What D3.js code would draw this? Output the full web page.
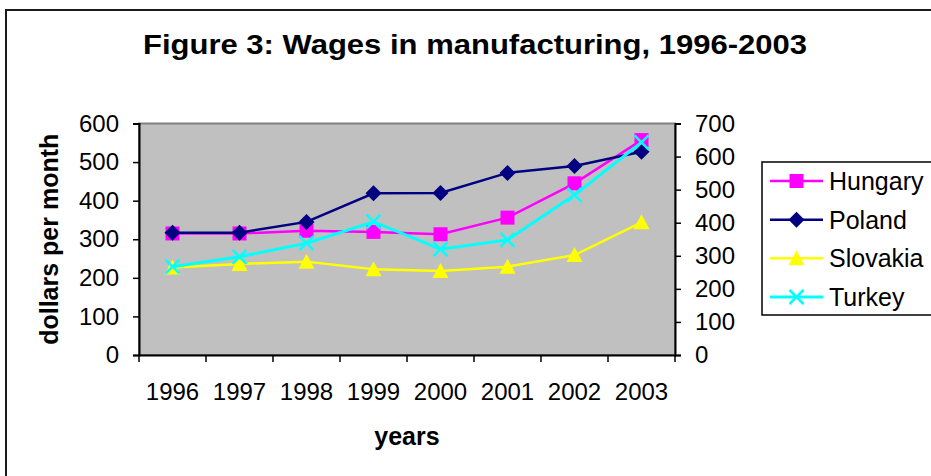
<!DOCTYPE html>
<html>
<head>
<meta charset="utf-8">
<script src="https://cdn.jsdelivr.net/npm/d3@7"></script>
<style>
  body { margin: 0; background: #fff; }
  svg { display: block; font-family: "Liberation Sans", Arial, sans-serif; }
</style>
</head>
<body>
<div id="chart"></div>
<script>
var years = ["1996", "1997", "1998", "1999", "2000", "2001", "2002", "2003"];

// left axis (dollars per month)
var hungary  = [315, 315, 322, 319, 313, 356, 445, 557];
var poland   = [317, 317, 345, 419, 420, 472, 490, 527];
var slovakia = [227, 236, 242, 222, 218, 229, 259, 344];
// right axis
var turkey   = [267, 297, 338, 403, 320, 348, 484, 643];

var leftTicks  = [0, 100, 200, 300, 400, 500, 600];
var rightTicks = [0, 100, 200, 300, 400, 500, 600, 700];

var seriesNames = ["Hungary", "Poland", "Slovakia", "Turkey"];

var width = 931, height = 476;
var plot = { left: 139, right: 675, top: 123.5, bottom: 355 };

var svg = d3.select("#chart").append("svg")
    .attr("width", width)
    .attr("height", height);

// outer chart frame
svg.append("rect")
    .attr("x", 6).attr("y", 10)
    .attr("width", 960).attr("height", 500)
    .attr("fill", "#fff")
    .attr("stroke", "#1a1a1a")
    .attr("stroke-width", 2);

var x = d3.scaleBand().domain(years).range([plot.left, plot.right]);
var yL = d3.scaleLinear().domain([0, 600]).range([plot.bottom, plot.top]);
var yR = d3.scaleLinear().domain([0, 700]).range([plot.bottom, plot.top]);

// plot area
svg.append("rect")
    .attr("x", plot.left).attr("y", plot.top)
    .attr("width", plot.right - plot.left)
    .attr("height", plot.bottom - plot.top)
    .attr("fill", "#c0c0c0")
    .attr("stroke", "#808080")
    .attr("stroke-width", 2);

var tickFont = "24px";

var gL = svg.append("g")
    .attr("transform", "translate(" + plot.left + ",0)")
    .call(d3.axisLeft(yL).tickValues(leftTicks).tickSize(6).tickPadding(14));

var gR = svg.append("g")
    .attr("transform", "translate(" + plot.right + ",0)")
    .call(d3.axisRight(yR).tickValues(rightTicks).tickSize(6).tickPadding(14));

var gX = svg.append("g")
    .attr("transform", "translate(0," + plot.bottom + ")")
    .call(d3.axisBottom(x).tickSize(0).tickPadding(28));

// category boundary ticks
gX.selectAll(".bound")
    .data(years.map(function(d) { return x(d); }).concat([x.range()[1]]))
    .enter().append("line")
    .attr("class", "bound")
    .attr("x1", function(d) { return d; })
    .attr("x2", function(d) { return d; })
    .attr("y1", 0).attr("y2", 7)
    .attr("stroke", "#000")
    .attr("stroke-width", 1.5);

[gL, gR, gX].forEach(function(g) {
    g.selectAll("text").attr("font-size", tickFont).attr("fill", "#000")
        .attr("font-family", "Liberation Sans, Arial, sans-serif");
    g.select(".domain").attr("stroke", "#000").attr("stroke-width", 2);
    g.selectAll(".tick line").attr("stroke", "#000").attr("stroke-width", 1.5);
});

// titles
svg.append("text")
    .attr("x", 475).attr("y", 54)
    .attr("text-anchor", "middle")
    .attr("font-size", "27px").attr("font-weight", "bold")
    .attr("textLength", 664)
    .attr("lengthAdjust", "spacingAndGlyphs")
    .text("Figure 3: Wages in manufacturing, 1996-2003");

svg.append("text")
    .attr("x", (plot.left + plot.right) / 2).attr("y", 445)
    .attr("text-anchor", "middle")
    .attr("font-size", "25px").attr("font-weight", "bold")
    .text("years");

svg.append("text")
    .attr("transform", "translate(58," + ((plot.top + plot.bottom) / 2) + ") rotate(-90)")
    .attr("text-anchor", "middle")
    .attr("font-size", "25px").attr("font-weight", "bold")
    .text("dollars per month");

// series
var series = [
    { name: "Hungary",  values: hungary,  y: yL, color: "#ff00ff", marker: "square" },
    { name: "Poland",   values: poland,   y: yL, color: "#000080", marker: "diamond" },
    { name: "Slovakia", values: slovakia, y: yL, color: "#ffff00", marker: "triangle" },
    { name: "Turkey",   values: turkey,   y: yR, color: "#00ffff", marker: "cross" }
];

function markerPath(type) {
    if (type == "square") return "M-7,-7H7V7H-7Z";
    if (type == "diamond") return "M0,-8L8,0L0,8L-8,0Z";
    if (type == "triangle") return "M0,-8L8,7H-8Z";
    return "M-7,-7L7,7M7,-7L-7,7";
}

function drawMarker(g, s) {
    var m = g.append("path").attr("d", markerPath(s.marker));
    if (s.marker == "cross") {
        m.attr("fill", "none").attr("stroke", s.color).attr("stroke-width", 2.5);
    } else {
        m.attr("fill", s.color);
    }
    return m;
}

var cx = function(i) { return x(years[i]) + x.bandwidth() / 2; };

series.forEach(function(s) {
    var line = d3.line()
        .x(function(d, i) { return cx(i); })
        .y(function(d) { return s.y(d); });

    svg.append("path")
        .datum(s.values)
        .attr("d", line)
        .attr("fill", "none")
        .attr("stroke", s.color)
        .attr("stroke-width", s.marker == "cross" ? 3 : 2.5);

    s.values.forEach(function(v, i) {
        var g = svg.append("g").attr("transform", "translate(" + cx(i) + "," + s.y(v) + ")");
        drawMarker(g, s);
    });
});

// legend
var legend = svg.append("g");
legend.append("rect")
    .attr("x", 762).attr("y", 162)
    .attr("width", 200).attr("height", 153)
    .attr("fill", "#fff")
    .attr("stroke", "#000")
    .attr("stroke-width", 1.5);

var legendY = d3.scalePoint().domain(seriesNames).range([181, 297]);

series.forEach(function(s) {
    var row = legend.append("g").attr("transform", "translate(0," + legendY(s.name) + ")");
    row.append("line")
        .attr("x1", 770).attr("x2", 823)
        .attr("stroke", s.color)
        .attr("stroke-width", s.marker == "cross" ? 3 : 2.5);
    var mg = row.append("g").attr("transform", "translate(796.5,0)");
    drawMarker(mg, s);
    row.append("text")
        .attr("x", 829).attr("y", 0).attr("dy", "0.36em")
        .attr("font-size", "25px")
        .text(s.name);
});
</script>
</body>
</html>
